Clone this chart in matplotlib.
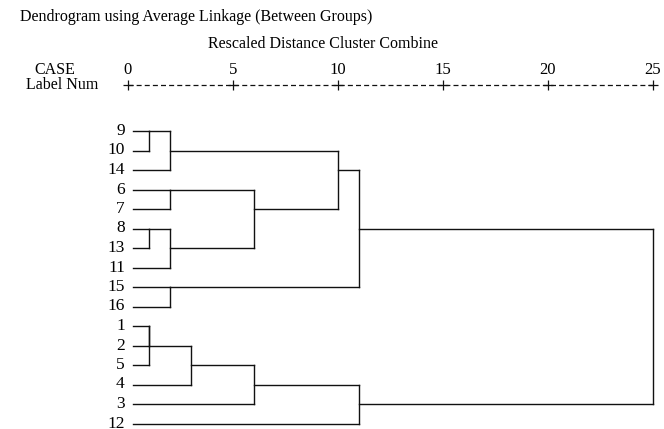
import matplotlib.pyplot as plt

plt.rcParams['font.family'] = ['Liberation Serif', 'DejaVu Serif']

# leaf labels, top to bottom
leaves = ['9', '10', '14', '6', '7', '8', '13', '11', '15', '16',
          '1', '2', '5', '4', '3', '12']

# merges: (child a, child b, rescaled distance, row where the new cluster line is drawn)
merges = [
    ('9', '10', 1, '9'),
    ('c0', '14', 2, '10'),
    ('6', '7', 2, '6'),
    ('8', '13', 1, '8'),
    ('c3', '11', 2, '13'),
    ('c2', 'c4', 6, '7'),
    ('c1', 'c5', 10, '14'),
    ('15', '16', 2, '15'),
    ('c6', 'c7', 11, '8'),
    ('1', '2', 1, '1'),
    ('c9', '5', 1, '2'),
    ('c10', '4', 3, '5'),
    ('c11', '3', 6, '4'),
    ('c12', '12', 11, '3'),
    ('c8', 'c13', 25, '8'),
]

scale_ticks = [0, 5, 10, 15, 20, 25]
leaf_start = 0.25

fig = plt.figure(figsize=(6.64, 4.29), dpi=100)
ax = fig.add_axes([0, 0, 1, 1])
ax.set_xlim(-128 / 21, (664 - 128) / 21)
ax.set_ylim((429 - 131) / 19.5, -131 / 19.5)
ax.axis('off')

lc = '#111111'
lw = 1.0

# node positions: name -> (row, x)
nodes = {lab: (i, leaf_start) for i, lab in enumerate(leaves)}
for k, (a, b, d, r) in enumerate(merges):
    ra, xa = nodes[a]
    rb, xb = nodes[b]
    ax.plot([xa, d], [ra, ra], color=lc, lw=lw)
    ax.plot([xb, d], [rb, rb], color=lc, lw=lw)
    ax.plot([d, d], [ra, rb], color=lc, lw=lw)
    nodes['c%d' % k] = (leaves.index(r), d)

for i, lab in enumerate(leaves):
    ax.text(-0.15, i, lab, ha='right', va='center', fontsize=12.5)

# rescaled distance scale
axis_row = (85 - 131) / 19.5
ax.plot([0, 25], [axis_row, axis_row], color=lc, lw=0.9, ls=(0, (4, 2.5)))
ax.plot(scale_ticks, [axis_row] * len(scale_ticks), ls='none', marker='+',
        ms=7, mew=0.9, color=lc)
for t in scale_ticks:
    ax.text(t, (70 - 131) / 19.5, str(t), ha='center', va='center', fontsize=12)

fig.text(20 / 664, 1 - 17 / 429, 'Dendrogram using Average Linkage (Between Groups)',
         ha='left', va='center', fontsize=11.5)
fig.text(323 / 664, 1 - 44 / 429, 'Rescaled Distance Cluster Combine',
         ha='center', va='center', fontsize=11.5)
fig.text(55 / 664, 1 - 70 / 429, 'CASE', ha='center', va='center', fontsize=11.5)
fig.text(62 / 664, 1 - 85 / 429, 'Label Num', ha='center', va='center', fontsize=11.5)

fig.savefig('out.png', dpi=100)
